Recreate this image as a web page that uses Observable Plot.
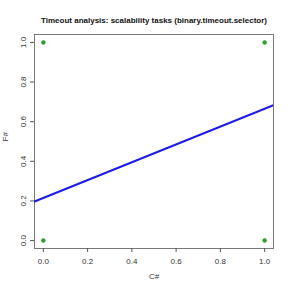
<!DOCTYPE html>
<html><head><meta charset="utf-8">
<script src="https://cdn.jsdelivr.net/npm/d3@7"></script>
<script src="https://cdn.jsdelivr.net/npm/@observablehq/plot@0.6"></script>
<style>body{margin:0;background:#fff}</style>
</head><body><div id="chart"></div>
<script>
const title = "Timeout analysis: scalability tasks (binary.timeout.selector)";
const xLabel = "C#";
const yLabel = "F#";
const pointX = [0, 0, 1, 1];
const pointY = [0, 1, 0, 1];
const ticks = [0, 0.2, 0.4, 0.6, 0.8, 1.0];
const ablineIntercept = 0.215;
const ablineSlope = 0.45;

const xDomain = [-0.04, 1.04];
const yDomain = [-0.04, 1.04];
const points = pointX.map((x, i) => ({x, y: pointY[i]}));
const line = xDomain.map(x => ({x, y: ablineIntercept + ablineSlope * x}));
const fmt = d3.format(".1f");
const font = "Liberation Sans, Arial, Helvetica, sans-serif";

const chart = Plot.plot({
  width: 291, height: 291,
  marginLeft: 34, marginRight: 18, marginTop: 34, marginBottom: 43,
  style: {fontFamily: font, fontSize: "8px", color: "#333", background: "#fff"},
  x: {domain: xDomain},
  y: {domain: yDomain},
  marks: [
    Plot.frame({stroke: "#777", strokeWidth: 1}),
    Plot.axisX(ticks, {tickSize: 4, tickPadding: 6, tickFormat: fmt, stroke: "#555", fill: "#333", fontSize: 8, label: null}),
    Plot.axisY(ticks, {tickSize: 4, tickPadding: 5, tickFormat: fmt, tickRotate: -90, stroke: "#555", fill: "#333", fontSize: 8, label: null}),
    Plot.line(line, {x: "x", y: "y", stroke: "#1a1aee", strokeWidth: 2, clip: true}),
    Plot.dot(points, {x: "x", y: "y", r: 2.2, fill: "#2ca02c", stroke: null}),
    Plot.text([title], {frameAnchor: "top", dy: -17, fontWeight: "bold", fontSize: 8, fill: "#111"}),
    Plot.text([xLabel], {frameAnchor: "bottom", dy: 30, fontSize: 8, fill: "#333"}),
    Plot.text([yLabel], {frameAnchor: "left", dx: -29, rotate: -90, fontSize: 8, fill: "#333"})
  ]
});
document.getElementById("chart").appendChild(chart);
</script>
</body></html>
